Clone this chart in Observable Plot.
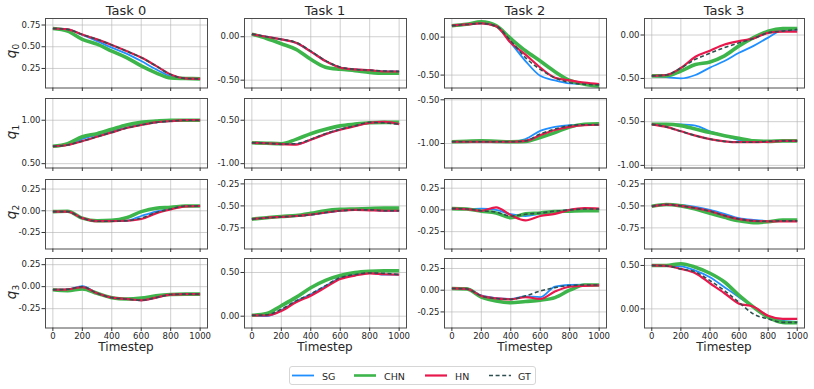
<!DOCTYPE html>
<html>
<head>
<meta charset="utf-8">
<script src="https://cdn.jsdelivr.net/npm/d3@7"></script>
<script src="https://cdn.jsdelivr.net/npm/@observablehq/plot@0.6"></script>
<style>
  html, body { margin: 0; padding: 0; background: #fff; }
  #chart { position: relative; width: 814px; height: 389px; font-family: "DejaVu Sans", sans-serif; color: #262626; overflow: hidden; }
  .abs { position: absolute; white-space: nowrap; }
  .title { font-size: 13px; transform: translate(-50%, -50%); }
  .xlabel { font-size: 12px; transform: translate(-50%, -50%); }
  .ylabel { font-size: 13.5px; transform: translate(-50%, -50%) rotate(-90deg); font-family: "DejaVu Sans", sans-serif; line-height: 1; }
  .ylabel sub { font-size: 9px; font-style: normal; }
  .legend { border: 1px solid #d6d6d6; border-radius: 3px; box-sizing: border-box; }
  .legend span { position: absolute; font-size: 9.5px; transform: translateY(-50%); }
</style>
</head>
<body>
<div id="chart"></div>
<script>
// ---------- data ----------
const tasks = ["Task 0", "Task 1", "Task 2", "Task 3"];
const joints = ["0", "1", "2", "3"];
const methods = ["SG", "CHN", "HN", "GT"];
const timesteps = [0, 100, 200, 300, 400, 500, 600, 700, 800, 900, 1000];
const xTicks = [0, 200, 400, 600, 800, 1000];

// values per joint: one array per task (Task 0..3)
const SG_q0 = [
  [0.71, 0.70, 0.635, 0.565, 0.49, 0.42, 0.335, 0.24, 0.16, 0.135, 0.13],
  [0.03, 0.0, -0.03, -0.07, -0.17, -0.28, -0.355, -0.375, -0.385, -0.40, -0.40],
  [0.15, 0.167, 0.185, 0.145, -0.075, -0.315, -0.51, -0.57, -0.61, -0.62, -0.63],
  [-0.47, -0.485, -0.50, -0.46, -0.375, -0.30, -0.205, -0.125, -0.03, 0.055, 0.055]
];
const CHN_q0 = [
  [0.71, 0.68, 0.585, 0.53, 0.45, 0.375, 0.28, 0.20, 0.14, 0.135, 0.13],
  [0.03, -0.02, -0.08, -0.145, -0.26, -0.35, -0.375, -0.39, -0.41, -0.42, -0.42],
  [0.15, 0.17, 0.20, 0.15, -0.02, -0.18, -0.315, -0.455, -0.57, -0.62, -0.645],
  [-0.47, -0.47, -0.415, -0.34, -0.31, -0.24, -0.125, -0.03, 0.045, 0.075, 0.075]
];
const HN_q0 = [
  [0.71, 0.70, 0.64, 0.585, 0.52, 0.45, 0.375, 0.28, 0.18, 0.135, 0.13],
  [0.03, 0.0, -0.03, -0.07, -0.17, -0.28, -0.355, -0.375, -0.385, -0.40, -0.40],
  [0.15, 0.167, 0.18, 0.145, -0.075, -0.23, -0.40, -0.535, -0.57, -0.60, -0.62],
  [-0.47, -0.46, -0.38, -0.25, -0.18, -0.11, -0.07, -0.04, 0.025, 0.04, 0.04]
];
const GT_q0 = [
  [0.71, 0.70, 0.64, 0.585, 0.52, 0.45, 0.375, 0.28, 0.18, 0.135, 0.13],
  [0.03, 0.0, -0.03, -0.065, -0.165, -0.275, -0.35, -0.375, -0.385, -0.395, -0.40],
  [0.15, 0.167, 0.18, 0.145, -0.05, -0.27, -0.425, -0.535, -0.60, -0.62, -0.63],
  [-0.47, -0.46, -0.38, -0.28, -0.21, -0.145, -0.09, -0.04, 0.025, 0.045, 0.065]
];

const SG_q1 = [
  [0.70, 0.715, 0.785, 0.83, 0.875, 0.915, 0.955, 0.975, 0.99, 1.0, 1.0],
  [-0.76, -0.765, -0.775, -0.775, -0.725, -0.66, -0.605, -0.565, -0.53, -0.525, -0.545],
  [-0.98, -0.98, -0.98, -0.98, -0.98, -0.95, -0.855, -0.81, -0.79, -0.785, -0.785],
  [-0.53, -0.527, -0.53, -0.545, -0.61, -0.66, -0.71, -0.725, -0.725, -0.72, -0.72]
];
const CHN_q1 = [
  [0.70, 0.73, 0.81, 0.845, 0.895, 0.945, 0.975, 0.99, 1.0, 1.0, 1.0],
  [-0.76, -0.765, -0.77, -0.72, -0.655, -0.605, -0.565, -0.545, -0.53, -0.525, -0.525],
  [-0.98, -0.975, -0.97, -0.975, -0.98, -0.975, -0.93, -0.875, -0.81, -0.78, -0.775],
  [-0.53, -0.53, -0.545, -0.585, -0.625, -0.66, -0.69, -0.72, -0.725, -0.72, -0.72]
];
const HN_q1 = [
  [0.70, 0.715, 0.76, 0.81, 0.86, 0.91, 0.945, 0.975, 0.99, 1.0, 1.0],
  [-0.76, -0.765, -0.775, -0.78, -0.725, -0.66, -0.61, -0.57, -0.53, -0.52, -0.545],
  [-0.98, -0.98, -0.98, -0.98, -0.98, -0.97, -0.905, -0.845, -0.81, -0.79, -0.785],
  [-0.53, -0.56, -0.61, -0.66, -0.70, -0.725, -0.735, -0.735, -0.73, -0.72, -0.72]
];
const GT_q1 = [
  [0.70, 0.715, 0.76, 0.81, 0.86, 0.91, 0.945, 0.975, 0.99, 1.0, 1.0],
  [-0.76, -0.765, -0.775, -0.77, -0.72, -0.655, -0.605, -0.565, -0.525, -0.53, -0.545],
  [-0.98, -0.98, -0.98, -0.98, -0.98, -0.97, -0.89, -0.835, -0.795, -0.785, -0.785],
  [-0.53, -0.56, -0.61, -0.66, -0.70, -0.725, -0.735, -0.735, -0.725, -0.72, -0.72]
];

const SG_q2 = [
  [-0.01, -0.01, -0.085, -0.12, -0.12, -0.115, -0.06, -0.01, 0.025, 0.055, 0.055],
  [-0.65, -0.635, -0.625, -0.615, -0.60, -0.575, -0.555, -0.545, -0.545, -0.555, -0.555],
  [0.015, 0.01, 0.015, 0.0, -0.05, -0.07, -0.045, -0.02, 0.0, 0.01, 0.01],
  [-0.505, -0.485, -0.49, -0.51, -0.545, -0.59, -0.64, -0.66, -0.67, -0.67, -0.67]
];
const CHN_q2 = [
  [-0.01, -0.005, -0.085, -0.115, -0.11, -0.08, -0.01, 0.03, 0.04, 0.055, 0.055],
  [-0.65, -0.635, -0.62, -0.61, -0.585, -0.555, -0.54, -0.535, -0.53, -0.525, -0.525],
  [0.015, 0.01, -0.015, -0.035, -0.09, -0.045, -0.035, -0.02, -0.015, -0.01, -0.01],
  [-0.505, -0.485, -0.50, -0.535, -0.585, -0.63, -0.67, -0.69, -0.68, -0.66, -0.66]
];
const HN_q2 = [
  [-0.01, -0.01, -0.085, -0.12, -0.12, -0.115, -0.095, -0.03, 0.015, 0.05, 0.055],
  [-0.65, -0.635, -0.625, -0.615, -0.60, -0.575, -0.555, -0.545, -0.55, -0.555, -0.555],
  [0.015, 0.01, -0.01, 0.03, -0.06, -0.12, -0.07, -0.045, 0.0, 0.02, 0.015],
  [-0.505, -0.485, -0.50, -0.525, -0.56, -0.61, -0.65, -0.67, -0.675, -0.675, -0.675]
];
const GT_q2 = [
  [-0.01, -0.01, -0.085, -0.12, -0.12, -0.115, -0.085, -0.02, 0.02, 0.055, 0.055],
  [-0.65, -0.635, -0.625, -0.615, -0.60, -0.575, -0.555, -0.545, -0.545, -0.555, -0.555],
  [0.015, 0.01, -0.01, -0.025, -0.07, -0.05, -0.035, -0.015, 0.0, 0.01, 0.01],
  [-0.505, -0.485, -0.50, -0.525, -0.56, -0.61, -0.65, -0.67, -0.675, -0.67, -0.67]
];

const SG_q3 = [
  [-0.035, -0.03, 0.005, -0.075, -0.125, -0.14, -0.155, -0.125, -0.09, -0.085, -0.085],
  [0.01, 0.0, 0.07, 0.17, 0.25, 0.345, 0.435, 0.475, 0.495, 0.475, 0.475],
  [0.02, 0.02, -0.06, -0.09, -0.10, -0.07, -0.08, 0.04, 0.06, 0.065, 0.06],
  [0.50, 0.495, 0.49, 0.44, 0.365, 0.25, 0.135, 0.02, -0.09, -0.135, -0.15]
];
const CHN_q3 = [
  [-0.035, -0.045, -0.025, -0.075, -0.125, -0.14, -0.13, -0.105, -0.09, -0.085, -0.085],
  [0.01, 0.03, 0.12, 0.215, 0.325, 0.41, 0.465, 0.50, 0.515, 0.52, 0.52],
  [0.02, 0.015, -0.08, -0.125, -0.145, -0.13, -0.115, -0.085, 0.0, 0.06, 0.06],
  [0.50, 0.50, 0.52, 0.48, 0.41, 0.31, 0.155, 0.02, -0.095, -0.155, -0.16]
];
const HN_q3 = [
  [-0.035, -0.03, -0.005, -0.075, -0.125, -0.14, -0.155, -0.125, -0.09, -0.085, -0.085],
  [0.01, 0.008, 0.06, 0.16, 0.235, 0.33, 0.425, 0.465, 0.49, 0.48, 0.475],
  [0.02, 0.015, -0.065, -0.095, -0.105, -0.08, -0.10, -0.015, 0.04, 0.05, 0.055],
  [0.50, 0.495, 0.46, 0.41, 0.295, 0.18, 0.06, 0.025, -0.08, -0.115, -0.115]
];
const GT_q3 = [
  [-0.035, -0.03, 0.0, -0.075, -0.125, -0.14, -0.155, -0.125, -0.09, -0.085, -0.085],
  [0.01, 0.015, 0.08, 0.175, 0.255, 0.35, 0.44, 0.475, 0.495, 0.49, 0.475],
  [0.02, 0.015, -0.065, -0.095, -0.105, -0.065, -0.01, 0.03, 0.055, 0.06, 0.06],
  [0.50, 0.495, 0.46, 0.425, 0.325, 0.21, 0.075, -0.06, -0.115, -0.155, -0.155]
];

// y-axis limits and ticks per joint (row), one entry per task
const yLimits = [
  [[0.025, 0.825], [-0.59, 0.21], [-0.67, 0.245], [-0.61, 0.19]],
  [[0.45, 1.25], [-1.05, -0.25], [-1.28, -0.485], [-1.03, -0.235]],
  [[-0.44, 0.36], [-0.99, -0.20], [-0.45, 0.35], [-0.99, -0.20]],
  [[-0.47, 0.32], [-0.135, 0.66], [-0.435, 0.365], [-0.22, 0.58]]
];
const yTickValues = [
  [[0.25, 0.5, 0.75], [-0.5, 0], [-0.5, 0], [-0.5, 0]],
  [[0.5, 1], [-1, -0.5], [-1, -0.5], [-1, -0.5]],
  [[-0.25, 0, 0.25], [-0.75, -0.5, -0.25], [-0.25, 0, 0.25], [-0.75, -0.5, -0.25]],
  [[-0.25, 0, 0.25], [0, 0.5], [-0.25, 0, 0.25], [0, 0.5]]
];

const series = {
  SG: [SG_q0, SG_q1, SG_q2, SG_q3],
  CHN: [CHN_q0, CHN_q1, CHN_q2, CHN_q3],
  HN: [HN_q0, HN_q1, HN_q2, HN_q3],
  GT: [GT_q0, GT_q1, GT_q2, GT_q3]
};

// ---------- styles ----------
const styles = {
  SG: { stroke: "#1f8fff", strokeWidth: 1.8 },
  CHN: { stroke: "#3db54a", strokeWidth: 3.6 },
  HN: { stroke: "#e8184c", strokeWidth: 2.2 },
  GT: { stroke: "#2f4f4f", strokeWidth: 1.6, strokeDasharray: "4,2.6" }
};

// ---------- layout ----------
const colLeft = [45, 244, 444, 644];
const colWidth = [162, 162, 162, 160];
const rowTop = [17.5, 98, 178.5, 258];
const rowHeight = 69.5;
const ml = 44, mr = 4, mt = 3;

const chart = document.getElementById("chart");
const fmt = d => d.toFixed(2);

joints.forEach((j, r) => {
  tasks.forEach((task, c) => {
    const mb = r === 3 ? 18 : 6;
    const data = methods.flatMap(m =>
      timesteps.map((t, i) => ({ t, v: series[m][r][c][i], m }))
    );
    const ticks = yTickValues[r][c];
    const svg = Plot.plot({
      width: ml + colWidth[c] + mr,
      height: mt + rowHeight + mb,
      marginLeft: ml, marginRight: mr, marginTop: mt, marginBottom: mb,
      style: { fontFamily: "DejaVu Sans, sans-serif", fontSize: "8.5px", color: "#262626", background: "transparent", overflow: "visible" },
      x: { domain: [-50, 1050] },
      y: { domain: yLimits[r][c] },
      marks: [
        Plot.gridX(xTicks, { stroke: "#b0b0b0", strokeOpacity: 0.6, strokeWidth: 1 }),
        Plot.gridY(ticks, { stroke: "#b0b0b0", strokeOpacity: 0.6, strokeWidth: 1 }),
        ...methods.map(m => Plot.line(data.filter(d => d.m === m), {
          x: "t", y: "v", curve: "monotone-x", strokeLinejoin: "round", strokeLinecap: "butt", ...styles[m]
        })),
        Plot.frame({ stroke: "#4d4d4d", strokeWidth: 1 }),
        Plot.axisX(xTicks, {
          tickSize: 3.5, tickPadding: 1.5, stroke: "#333",
          tickFormat: r === 3 ? (d => String(d)) : (() => ""),
          label: null
        }),
        Plot.axisY(ticks, { tickSize: 3.5, tickPadding: 1.5, stroke: "#333", tickFormat: fmt, label: null })
      ]
    });
    svg.style.position = "absolute";
    svg.style.left = (colLeft[c] - ml) + "px";
    svg.style.top = (rowTop[r] - mt) + "px";
    chart.appendChild(svg);
  });
});

// titles
tasks.forEach((task, c) => {
  const d = document.createElement("div");
  d.className = "abs title";
  d.textContent = task;
  d.style.left = (colLeft[c] + colWidth[c] / 2) + "px";
  d.style.top = "10px";
  chart.appendChild(d);
  const x = document.createElement("div");
  x.className = "abs xlabel";
  x.textContent = "Timestep";
  x.style.left = (colLeft[c] + colWidth[c] / 2) + "px";
  x.style.top = "347px";
  chart.appendChild(x);
});

// y labels
joints.forEach((j, r) => {
  const d = document.createElement("div");
  d.className = "abs ylabel";
  d.innerHTML = "<i>q</i><sub>" + j + "</sub>";
  d.style.left = "13px";
  d.style.top = (rowTop[r] + rowHeight / 2 - 1) + "px";
  chart.appendChild(d);
});

// legend
const legend = document.createElement("div");
legend.className = "abs legend";
legend.style.left = "289px";
legend.style.top = "366px";
legend.style.width = "247px";
legend.style.height = "19px";
chart.appendChild(legend);
const legendSvg = d3.select(legend).append("svg")
  .attr("width", 247).attr("height", 19)
  .style("position", "absolute").style("left", "-1px").style("top", "-1px");
const legendItems = [
  { m: "SG", x0: 3, tx: 33 },
  { m: "CHN", x0: 65, tx: 95 },
  { m: "HN", x0: 136, tx: 166 },
  { m: "GT", x0: 200, tx: 229 }
];
legendItems.forEach(it => {
  const s = styles[it.m];
  legendSvg.append("line")
    .attr("x1", it.x0).attr("x2", it.x0 + 22).attr("y1", 9.5).attr("y2", 9.5)
    .attr("stroke", s.stroke).attr("stroke-width", Math.min(s.strokeWidth, 2.6))
    .attr("stroke-dasharray", s.strokeDasharray || null);
  const sp = document.createElement("span");
  sp.textContent = it.m;
  sp.style.left = (it.tx - 1) + "px";
  sp.style.top = "9px";
  legend.appendChild(sp);
});
</script>
</body>
</html>
